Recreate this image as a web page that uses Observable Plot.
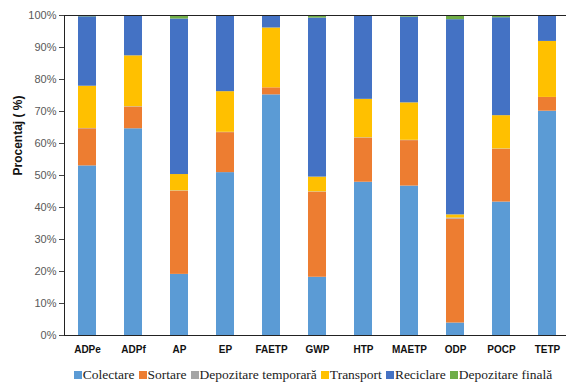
<!DOCTYPE html>
<html>
<head>
<meta charset="utf-8">
<script src="https://cdn.jsdelivr.net/npm/d3@7"></script>
<script src="https://cdn.jsdelivr.net/npm/@observablehq/plot@0.6"></script>
<style>
  html, body { margin: 0; padding: 0; background: white; overflow: hidden; }
  #legend { display: flex; justify-content: center; align-items: center; margin-left: 64px; width: 502px;
    font-family: "Liberation Serif", "Times New Roman", serif; font-size: 13.5px; color: #222; height: 20px; }
  #legend span.item { display: inline-flex; align-items: center; margin-right: 4px; white-space: nowrap; }
  #legend span.sw { display: inline-block; width: 8px; height: 8px; margin-right: 1px; }
</style>
</head>
<body>
<div id="chart"></div>
<div id="legend"></div>
<script>
const categories = ["ADPe", "ADPf", "AP", "EP", "FAETP", "GWP", "HTP", "MAETP", "ODP", "POCP", "TETP"];
const seriesNames = ["Colectare", "Sortare", "Depozitare temporară", "Transport", "Reciclare", "Depozitare finală"];
const colors = ["#5B9BD5", "#ED7D31", "#A5A5A5", "#FFC000", "#4472C4", "#70AD47"];

const colectare  = [53.0, 64.6, 19.1, 50.9, 75.2, 18.2, 47.9, 46.7, 3.9, 41.7, 70.1];
const sortare    = [11.6, 6.8, 26.0, 12.5, 2.2, 26.6, 13.8, 14.2, 32.5, 16.5, 4.3];
const depTemp    = [0.1, 0.1, 0.1, 0.1, 0.0, 0.1, 0.1, 0.1, 0.3, 0.1, 0.0];
const transport  = [13.2, 15.9, 5.1, 12.7, 18.7, 4.6, 12.0, 11.7, 1.0, 10.4, 17.5];
const reciclare  = [21.7, 12.3, 48.6, 23.5, 3.9, 49.7, 25.9, 26.8, 61.0, 30.6, 8.1];
const depFinala  = [0.4, 0.3, 1.1, 0.3, 0.0, 0.8, 0.3, 0.5, 1.3, 0.7, 0.0];
const yTicks = [0, 10, 20, 30, 40, 50, 60, 70, 80, 90, 100];

const seriesValues = [colectare, sortare, depTemp, transport, reciclare, depFinala];
const data = [];
seriesNames.forEach((s, i) => {
  categories.forEach((c, j) => data.push({cat: c, series: s, value: seriesValues[i][j]}));
});

const plot = Plot.plot({
  width: 566,
  height: 365,
  marginTop: 15,
  marginBottom: 30,
  marginLeft: 64,
  marginRight: 0,
  style: {fontFamily: "'Liberation Sans', Arial, sans-serif", overflow: "visible"},
  x: {domain: categories, range: [64, 570], paddingInner: 0.61, paddingOuter: 0.305},
  y: {domain: [0, 100]},
  color: {domain: seriesNames, range: colors},
  marks: [
    Plot.barY(data, {x: "cat", y: "value", fill: "series", z: "series"}),
    Plot.frame({stroke: "#222", strokeWidth: 1}),
    Plot.axisY({ticks: yTicks, tickFormat: d => d + "%", tickSize: 5, fontSize: 11, fill: "#595959", stroke: "#444", label: null, tickPadding: 3}),
    Plot.axisX({tickSize: 0, fontSize: 10, fontWeight: "bold", fill: "#111", label: null, tickPadding: 10}),
    Plot.text(["Procentaj ( %)"], {frameAnchor: "left", dx: -46, dy: 0, rotate: -90, fontSize: 12, fontWeight: "bold", fill: "#111"})
  ]
});
document.getElementById("chart").appendChild(plot);

const legend = document.getElementById("legend");
seriesNames.forEach((s, i) => {
  const item = document.createElement("span");
  item.className = "item";
  const sw = document.createElement("span");
  sw.className = "sw";
  sw.style.background = colors[i];
  item.appendChild(sw);
  item.appendChild(document.createTextNode(s));
  legend.appendChild(item);
});
</script>
</body>
</html>
